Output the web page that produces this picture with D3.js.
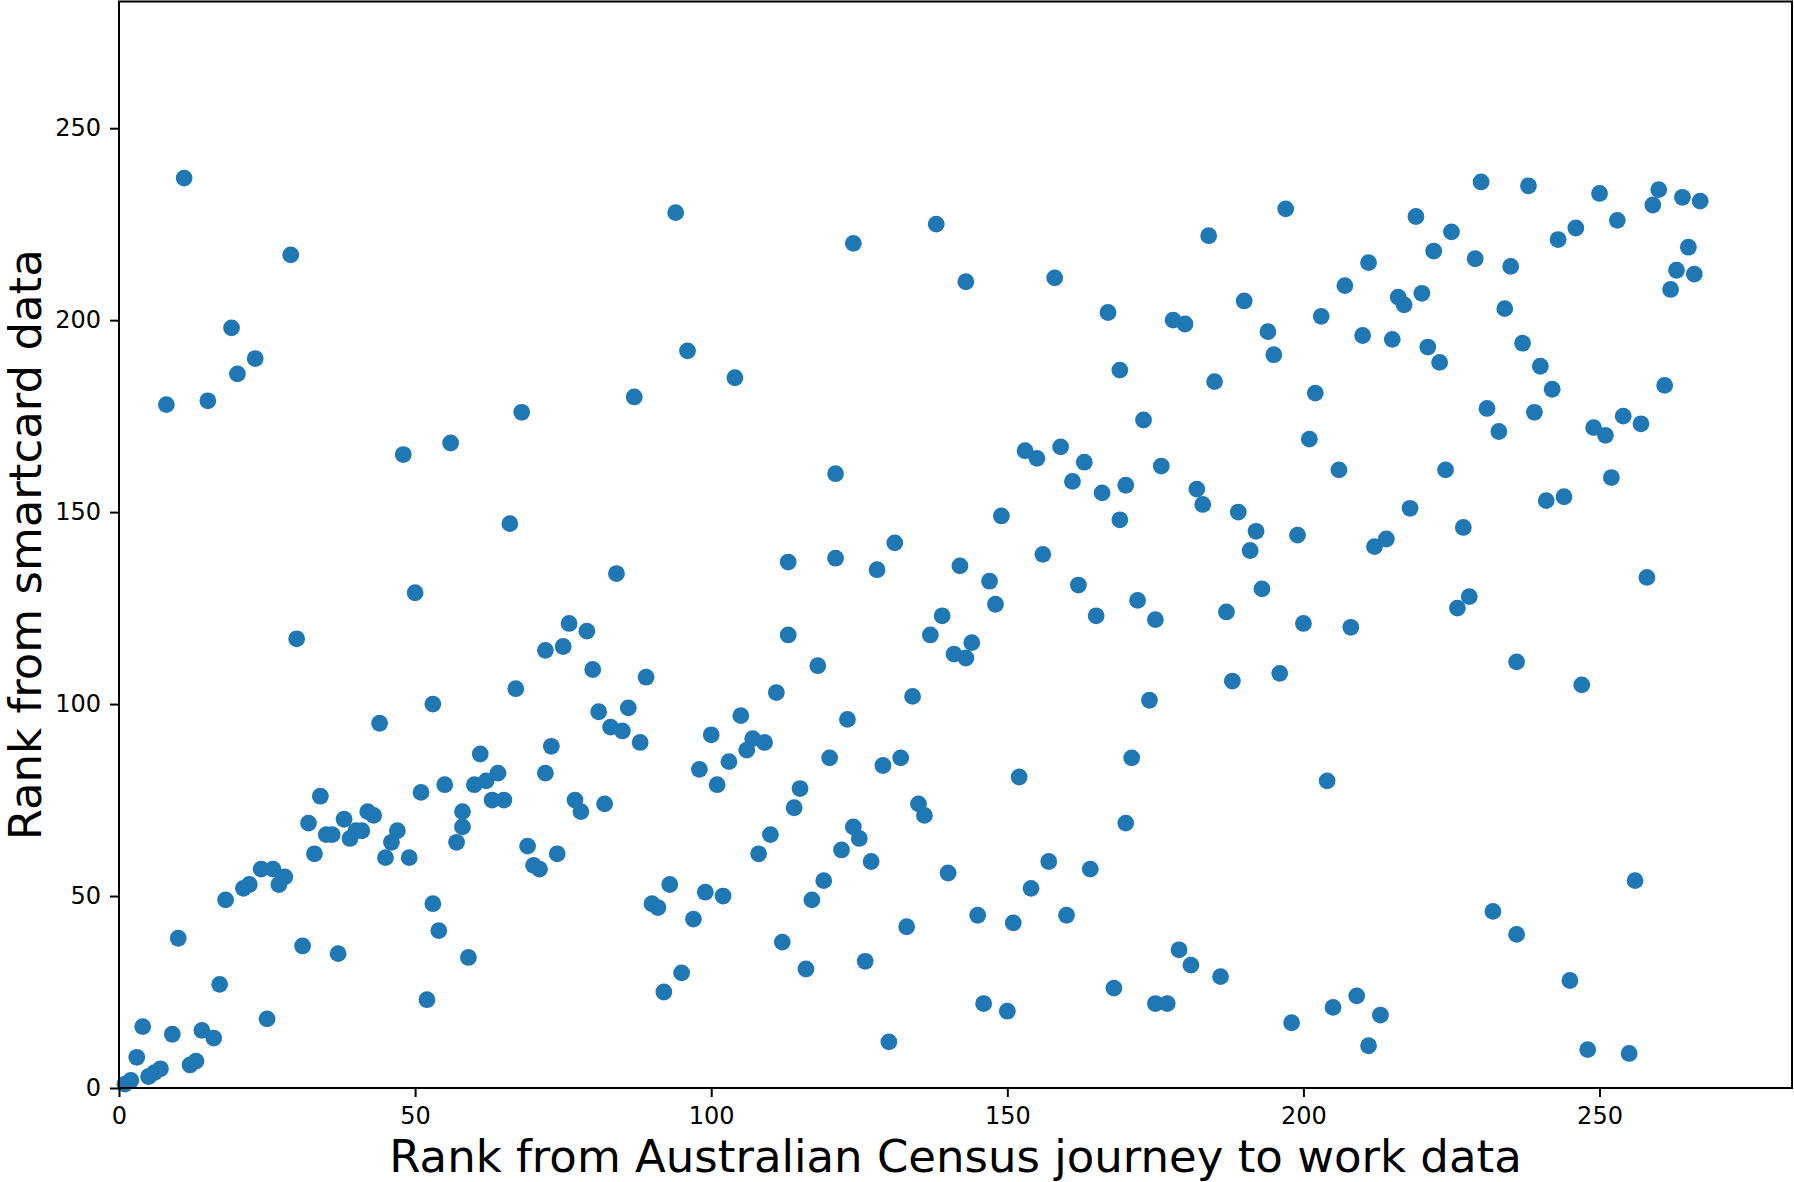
<!DOCTYPE html>
<html>
<head>
<meta charset="utf-8">
<title>census vs smartcard rank</title>
<style>
  body { margin: 0; background: #fff; }
  text { font-family: "DejaVu Sans", sans-serif; }
</style>
</head>
<body>
<script src="https://cdn.jsdelivr.net/npm/d3@7"></script>
<script>
// rank of each station from the census journey-to-work data
var censusRank = [
  1, 2, 3, 4, 5, 6, 7, 8, 9, 10, 11, 12, 13, 14, 15, 16, 17, 18, 19, 20,
  21, 22, 23, 24, 25, 26, 27, 28, 29, 30, 31, 32, 33, 34, 35, 36, 37, 38, 39, 40,
  41, 42, 43, 44, 45, 46, 47, 48, 49, 50, 51, 52, 53, 53, 54, 55, 56, 57, 58, 58,
  59, 60, 61, 62, 63, 64, 65, 66, 67, 68, 69, 70, 71, 72, 72, 73, 74, 75, 76, 77,
  78, 79, 80, 81, 82, 83, 84, 85, 86, 87, 88, 89, 90, 91, 92, 93, 94, 95, 96, 97,
  98, 99, 100, 101, 102, 103, 104, 105, 106, 107, 108, 109, 110, 111, 112, 113, 113, 114, 115, 116,
  117, 118, 119, 120, 121, 121, 122, 123, 124, 124, 125, 126, 127, 128, 129, 130, 131, 132, 133, 134,
  135, 136, 137, 138, 139, 140, 141, 142, 143, 143, 144, 145, 146, 147, 148, 149, 150, 151, 152, 153,
  154, 155, 156, 157, 158, 159, 160, 161, 162, 163, 164, 165, 166, 167, 168, 169, 169, 170, 170, 171,
  172, 173, 174, 175, 175, 176, 177, 178, 179, 180, 181, 182, 183, 184, 185, 186, 187, 188, 189, 190,
  191, 192, 193, 194, 195, 196, 197, 198, 199, 200, 201, 202, 203, 204, 205, 206, 207, 208, 209, 210,
  211, 211, 212, 213, 214, 215, 216, 217, 218, 219, 220, 221, 222, 223, 224, 225, 226, 227, 228, 229,
  230, 231, 232, 233, 234, 235, 236, 236, 237, 238, 239, 240, 241, 242, 243, 244, 245, 246, 247, 248,
  249, 250, 251, 252, 253, 254, 255, 256, 257, 258, 259, 260, 261, 262, 263, 264, 265, 266, 267
];

// rank of the same station from the smartcard data
var smartcardRank = [
  1, 2, 8, 16, 3, 4, 5, 178, 14, 39, 237, 6, 7, 15, 179, 13, 27, 49, 198, 186,
  52, 53, 190, 57, 18, 57, 53, 55, 217, 117, 37, 69, 61, 76, 66, 66, 35, 70, 65, 67,
  67, 72, 71, 95, 60, 64, 67, 165, 60, 129, 77, 23, 48, 100, 41, 79, 168, 64, 72, 68,
  34, 79, 87, 80, 75, 82, 75, 147, 104, 176, 63, 58, 57, 82, 114, 89, 61, 115, 121, 75,
  72, 119, 109, 98, 74, 94, 134, 93, 99, 180, 90, 107, 48, 47, 25, 53, 228, 30, 192, 44,
  83, 51, 92, 79, 50, 85, 185, 97, 88, 91, 61, 90, 66, 103, 38, 137, 118, 73, 78, 31,
  49, 110, 54, 86, 160, 138, 62, 96, 220, 68, 65, 33, 59, 135, 84, 12, 142, 86, 42, 102,
  74, 71, 118, 225, 123, 56, 113, 136, 210, 112, 116, 45, 22, 132, 126, 149, 20, 43, 81, 166,
  52, 164, 139, 59, 211, 167, 45, 158, 131, 163, 57, 123, 155, 202, 26, 187, 148, 69, 157, 86,
  127, 174, 101, 22, 122, 162, 22, 200, 36, 199, 32, 156, 152, 222, 184, 29, 124, 106, 150, 205,
  140, 145, 130, 197, 191, 108, 229, 17, 144, 121, 169, 181, 201, 80, 21, 161, 209, 120, 24, 196,
  215, 11, 141, 19, 143, 195, 206, 204, 151, 227, 207, 193, 218, 189, 161, 223, 125, 146, 128, 216,
  236, 177, 46, 171, 203, 214, 111, 40, 194, 235, 176, 188, 153, 182, 221, 154, 28, 224, 105, 10,
  172, 233, 170, 159, 226, 175, 9, 54, 173, 133, 230, 234, 183, 208, 213, 232, 219, 212, 231
];

var xTicks = [0, 50, 100, 150, 200, 250];
var yTicks = [0, 50, 100, 150, 200, 250];

var xLabel = "Rank from Australian Census journey to work data";
var yLabel = "Rank from smartcard data";

var width = 1794, height = 1182;
var margin = { left: 119, right: 2, top: 1.5, bottom: 94 };

var svg = d3.select("body").append("svg")
    .attr("width", width)
    .attr("height", height);

var x = d3.scaleLinear()
    .domain([0, 282.5])
    .range([margin.left, width - margin.right]);

var y = d3.scaleLinear()
    .domain([0, 283])
    .range([height - margin.bottom, margin.top]);

var points = censusRank.map(function(c, i) {
    return { census: c, smart: smartcardRank[i] };
});

// points
svg.append("g")
    .selectAll("circle")
    .data(points)
    .enter()
    .append("circle")
    .attr("cx", d => x(d.census))
    .attr("cy", d => y(d.smart))
    .attr("r", 8.4)
    .style("fill", "#1f77b4");

// axes
var xAxis = svg.append("g")
    .attr("transform", "translate(0," + (height - margin.bottom) + ")")
    .call(d3.axisBottom(x).tickValues(xTicks).tickSize(9).tickPadding(10));

var yAxis = svg.append("g")
    .attr("transform", "translate(" + margin.left + ",0)")
    .call(d3.axisLeft(y).tickValues(yTicks).tickSize(9).tickPadding(9));

[xAxis, yAxis].forEach(function(a) {
    a.select(".domain").remove();
    a.selectAll(".tick line").attr("stroke", "#000").attr("stroke-width", 2);
    a.selectAll(".tick text")
        .attr("fill", "#000")
        .style("font-size", "24px");
});

// frame around the plot area
svg.append("rect")
    .attr("x", x(0))
    .attr("y", y(283))
    .attr("width", x(282.5) - x(0))
    .attr("height", y(0) - y(283))
    .attr("fill", "none")
    .attr("stroke", "#000")
    .attr("stroke-width", 2);

// axis titles
svg.append("text")
    .attr("x", (x(0) + x(282.5)) / 2)
    .attr("y", 1172)
    .attr("text-anchor", "middle")
    .style("font-size", "45px")
    .text(xLabel);

svg.append("text")
    .attr("transform", "translate(41," + (y(0) + y(283)) / 2 + ") rotate(-90)")
    .attr("text-anchor", "middle")
    .style("font-size", "45px")
    .text(yLabel);
</script>
</body>
</html>
